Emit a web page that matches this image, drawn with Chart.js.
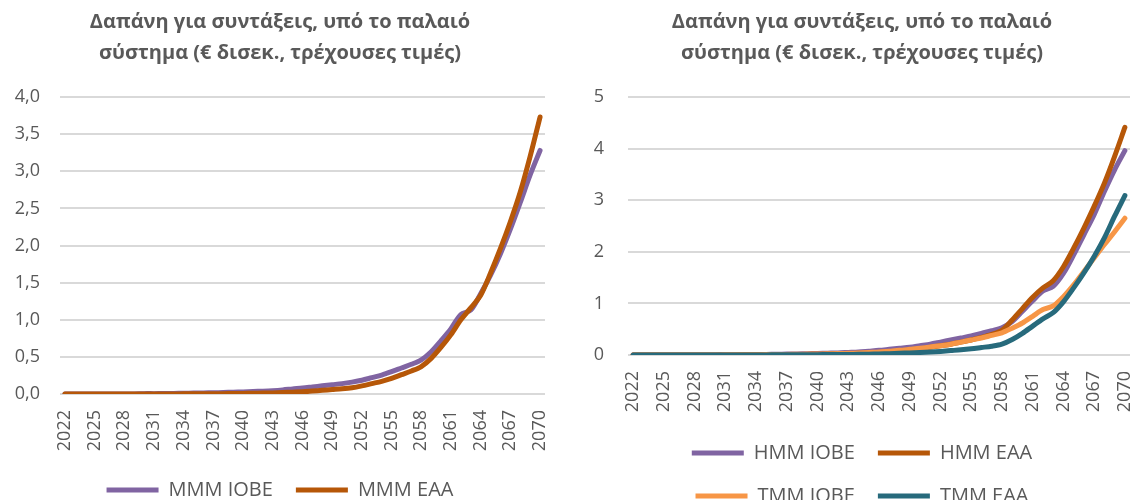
<!DOCTYPE html>
<html>
<head>
<meta charset="utf-8">
<script src="https://cdn.jsdelivr.net/npm/chart.js@4.4.1/dist/chart.umd.min.js"></script>
<style>
  html, body { margin: 0; padding: 0; background: #fff; overflow: hidden; }
  body { width: 1132px; height: 500px; position: relative; }
  .box { position: absolute; top: 0; width: 566px; }
</style>
</head>
<body>
<div class="box" style="left:0"><canvas id="chartLeft" width="566" height="510"></canvas></div>
<div class="box" style="left:566px"><canvas id="chartRight" width="566" height="516"></canvas></div>
<script>
// Χρονιές 2022-2070
const years = [];
for (let y = 2022; y <= 2070; y++) years.push(String(y));

const titleLines = ['Δαπάνη για συντάξεις, υπό το παλαιό', 'σύστημα (€ δισεκ., τρέχουσες τιμές)'];

// Αριστερό διάγραμμα
const mmmIobe = [0, 0, 0, 0, 0, 0, 0, 0, 0.005, 0.005, 0.006, 0.008, 0.01, 0.012, 0.014, 0.017, 0.02, 0.024, 0.028, 0.033,
  0.038, 0.045, 0.055, 0.068, 0.08, 0.095, 0.11, 0.125, 0.14, 0.16, 0.185, 0.22, 0.255, 0.3, 0.35, 0.4, 0.46, 0.57, 0.72, 0.88,
  1.07, 1.13, 1.35, 1.6, 1.89, 2.22, 2.58, 2.95, 3.28];
const mmmEaa = [0, 0, 0, 0, 0, 0, 0, 0, 0, 0, 0.001, 0.001, 0.002, 0.002, 0.003, 0.004, 0.005, 0.006, 0.008, 0.01,
  0.012, 0.015, 0.02, 0.025, 0.03, 0.04, 0.05, 0.06, 0.07, 0.085, 0.11, 0.14, 0.17, 0.21, 0.26, 0.31, 0.37, 0.48, 0.63, 0.8,
  1.0, 1.16, 1.33, 1.63, 1.96, 2.32, 2.72, 3.2, 3.73];

// Δεξί διάγραμμα
const hmmIobe = [0, 0, 0, 0, 0, 0, 0, 0, 0, 0.005, 0.006, 0.008, 0.01, 0.012, 0.015, 0.018, 0.021, 0.025, 0.03, 0.035,
  0.04, 0.05, 0.06, 0.075, 0.09, 0.11, 0.13, 0.15, 0.18, 0.21, 0.25, 0.29, 0.33, 0.37, 0.42, 0.47, 0.53, 0.65, 0.85, 1.05,
  1.24, 1.33, 1.58, 1.94, 2.33, 2.72, 3.17, 3.59, 3.96];
const hmmEaa = [0, 0, 0, 0, 0, 0, 0, 0, 0, 0, 0.002, 0.003, 0.004, 0.005, 0.006, 0.008, 0.01, 0.012, 0.015, 0.018,
  0.022, 0.027, 0.033, 0.04, 0.05, 0.065, 0.08, 0.1, 0.12, 0.15, 0.18, 0.21, 0.25, 0.29, 0.34, 0.4, 0.48, 0.68, 0.9, 1.12,
  1.3, 1.44, 1.71, 2.07, 2.46, 2.88, 3.33, 3.85, 4.41];
const tmmIobe = [0, 0, 0, 0, 0, 0, 0, 0, 0, 0.003, 0.004, 0.005, 0.006, 0.008, 0.01, 0.012, 0.014, 0.017, 0.02, 0.023,
  0.027, 0.032, 0.04, 0.05, 0.06, 0.075, 0.09, 0.11, 0.13, 0.155, 0.18, 0.21, 0.25, 0.29, 0.33, 0.38, 0.43, 0.52, 0.62, 0.75,
  0.88, 0.95, 1.13, 1.36, 1.62, 1.88, 2.14, 2.39, 2.65];
const tmmEaa = [0, 0, 0, 0, 0, 0, 0, 0, 0, 0, 0.001, 0.001, 0.002, 0.002, 0.003, 0.004, 0.005, 0.006, 0.007, 0.008,
  0.009, 0.011, 0.013, 0.016, 0.02, 0.026, 0.033, 0.04, 0.048, 0.058, 0.07, 0.085, 0.1, 0.12, 0.145, 0.17, 0.21, 0.3, 0.42, 0.56,
  0.7, 0.82, 1.03, 1.3, 1.59, 1.91, 2.27, 2.69, 3.09];

const grey = '#595959';
const font = "'Open Sans', sans-serif";

function series(label, data, color, n, i) {
  return {
    label: label,
    data: data,
    borderColor: color,
    backgroundColor: color,
    borderWidth: 5,
    borderCapStyle: 'round',
    borderJoinStyle: 'round',
    pointRadius: 0,
    tension: 0.3,
    order: n - i // όπως στο Excel: η τελευταία σειρά από πάνω
  };
}

// yWidth: πλάτος του άξονα y, legendGap: κενό πάνω από το υπόμνημα
function makeChart(id, datasets, yMax, yStep, decimals, pad, yPad, yWidth, legendGap) {
  const ctx = document.getElementById(id).getContext('2d');
  return new Chart(ctx, {
    type: 'line',
    data: { labels: years, datasets: datasets },
    options: {
      responsive: false,
      animation: false,
      layout: { padding: pad },
      plugins: {
        title: {
          display: true,
          text: titleLines,
          color: grey,
          font: { family: font, size: 20, weight: 'bold', lineHeight: 1.55 },
          padding: { top: 6.5, bottom: 28.5 }
        },
        legend: {
          position: 'bottom',
          title: { display: true, text: '', font: { size: 1, lineHeight: 1 }, padding: { top: legendGap - 1, bottom: 0 } },
          labels: {
            color: grey,
            font: { family: font, size: 20 },
            usePointStyle: true,
            pointStyle: 'line',
            pointStyleWidth: 52,
            padding: 23,
            sort: (a, b) => a.datasetIndex - b.datasetIndex
          }
        },
        tooltip: { enabled: false }
      },
      scales: {
        x: {
          offset: true,
          grid: { display: false, drawTicks: false },
          border: { display: false },
          afterFit: function (scale) {
            scale.paddingLeft = 0;
            scale.paddingRight = 0;
            scale.height = 57;
          },
          ticks: {
            autoSkip: false,
            minRotation: 90,
            maxRotation: 90,
            padding: 16,
            color: grey,
            font: { family: font, size: 18 },
            callback: function (val, idx) { return idx % 3 === 0 ? years[idx] : ''; }
          }
        },
        y: {
          min: 0,
          max: yMax,
          grid: { color: '#d9d9d9', lineWidth: 2, drawTicks: false },
          border: { display: false },
          afterFit: function (scale) { scale.width = yWidth; },
          ticks: {
            stepSize: yStep,
            padding: yPad,
            color: grey,
            font: { family: font, size: 18 },
            callback: v => v.toFixed(decimals).replace('.', ',')
          }
        }
      }
    }
  });
}

makeChart('chartLeft', [
  series('MMM IOBE', mmmIobe, '#8064A2', 2, 0),
  series('MMM EAA', mmmEaa, '#B65708', 2, 1)
], 4, 0.5, 1, { left: 15, right: 21, top: 0, bottom: 0 }, 20, 45, 6);

makeChart('chartRight', [
  series('HMM IOBE', hmmIobe, '#8064A2', 4, 0),
  series('HMM EAA', hmmEaa, '#B65708', 4, 1),
  series('TMM IOBE', tmmIobe, '#F79646', 4, 2),
  series('TMM EAA', tmmEaa, '#276A7C', 4, 3)
], 5, 1, 0, { left: 28, right: 2, top: 0, bottom: 0 }, 24, 34, 8);
</script>
</body>
</html>
